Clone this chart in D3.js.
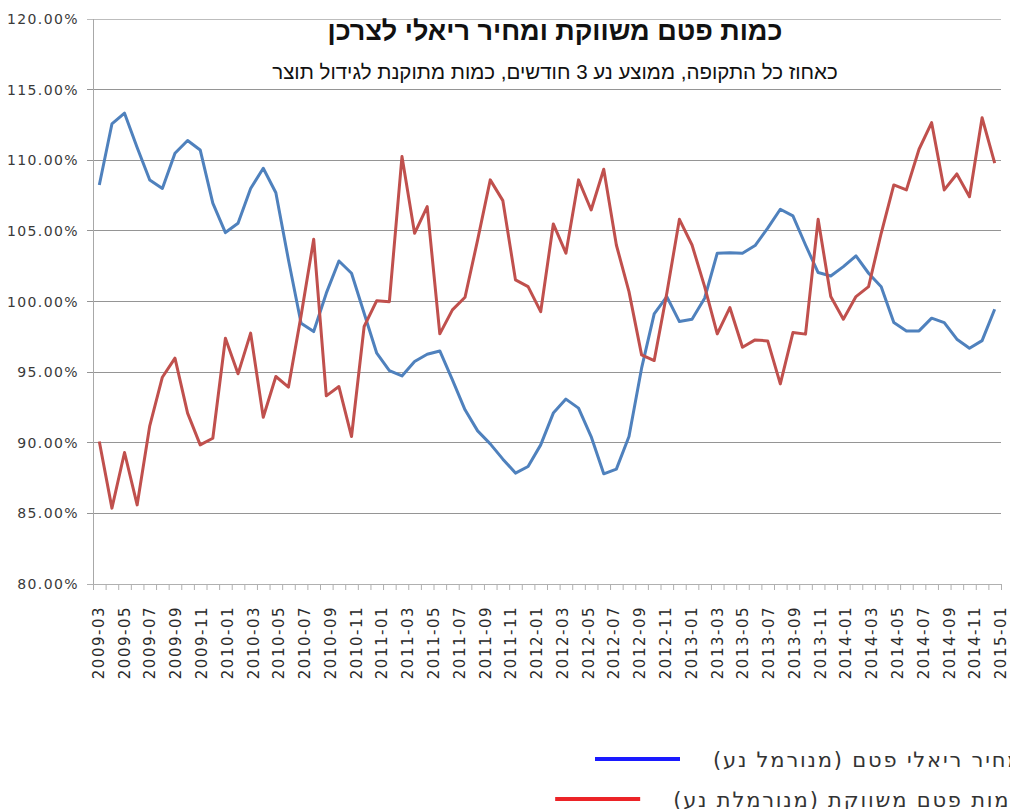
<!DOCTYPE html>
<html>
<head>
<meta charset="utf-8">
<script src="https://cdn.jsdelivr.net/npm/d3@7"></script>
<style>
  body { margin: 0; background: #fff; }
  svg { display: block; }
</style>
</head>
<body>
<svg id="chart" width="1010" height="809"></svg>
<script>
// Monthly categories 2009-03 .. 2015-02
const months = [];
for (let yr = 2009; yr <= 2015; yr++) {
  for (let m = 1; m <= 12; m++) {
    if ((yr === 2009 && m < 3) || (yr === 2015 && m > 2)) continue;
    months.push(yr + "-" + String(m).padStart(2, "0"));
  }
}

// Real price of broiler meat (normalised, moving avg), %
const priceValues = [
  108.25, 112.57, 113.33, 110.9, 108.6, 108.0, 110.5, 111.4, 110.73, 106.96,
  104.88, 105.54, 108.0, 109.43, 107.7, 102.94, 98.46, 97.87, 100.59, 102.87,
  102.0, 99.17, 96.34, 95.11, 94.73, 95.75, 96.27, 96.5, 94.45, 92.33,
  90.84, 89.92, 88.84, 87.85, 88.32, 89.85, 92.1, 93.09, 92.45, 90.44,
  87.8, 88.13, 90.44, 95.28, 99.12, 100.35, 98.58, 98.75, 100.23, 103.42,
  103.46, 103.42, 103.96, 105.19, 106.53, 106.06, 104.0, 102.05, 101.81, 102.47,
  103.23, 102.0, 101.05, 98.51, 97.92, 97.92, 98.82, 98.51, 97.33, 96.69,
  97.23, 99.45
];

// Marketed broiler quantity (normalised, moving avg), %
const quantityValues = [
  90.09, 85.37, 89.31, 85.6, 91.2, 94.64, 95.99, 92.1, 89.85, 90.32,
  97.4, 94.88, 97.76, 91.81, 94.69, 93.94, 99.0, 104.41, 93.32, 93.98,
  90.44, 98.23, 100.06, 99.99, 110.26, 104.83, 106.72, 97.71, 99.41, 100.3,
  104.36, 108.61, 107.14, 101.53, 101.05, 99.28, 105.49, 103.42, 108.61, 106.48,
  109.36, 104.0, 100.7, 96.22, 95.82, 100.59, 105.82, 104.0, 101.05, 97.71,
  99.57, 96.76, 97.28, 97.21, 94.17, 97.8, 97.69, 105.82, 100.35, 98.75,
  100.35, 101.05, 104.83, 108.25, 107.9, 110.78, 112.66, 107.9, 109.03, 107.42,
  113.01, 109.79
];

const yTicks = [80, 85, 90, 95, 100, 105, 110, 115, 120];
const tickLabels = months.filter((d, i) => i % 2 === 0 && i <= 70);

const titleText = "כמות פטם משווקת ומחיר ריאלי לצרכן";
const subtitleText = "כאחוז כל התקופה, ממוצע נע 3 חודשים, כמות מתוקנת לגידול תוצר";
const seriesNames = ["מחיר ריאלי פטם (מנורמל נע)", "כמות פטם משווקת (מנורמלת נע)"];

const svg = d3.select("#chart");
const plotLeft = 93, plotRight = 1001, plotTop = 19, plotBottom = 584;
const labelFont = "'DejaVu Sans', sans-serif";

const x = d3.scaleBand().domain(months).range([plotLeft, plotRight]).padding(0);
const y = d3.scaleLinear().domain([80, 120]).range([plotBottom, plotTop]);
const xEdge = d3.scaleLinear().domain([0, months.length]).range([plotLeft, plotRight]);
// labels are drawn a little wider than the categories in the original
const xLabel = d3.scalePoint().domain(tickLabels).range([98.8, 1001]);

// gridlines
svg.append("g")
  .selectAll("line")
  .data(yTicks)
  .join("line")
  .attr("x1", plotLeft - 6)
  .attr("x2", plotRight)
  .attr("y1", d => y(d))
  .attr("y2", d => y(d))
  .attr("stroke", d => (d === 80 || d === 120) ? "#bdbdbd" : "#959595")
  .attr("stroke-width", 1)
  .attr("shape-rendering", "crispEdges");

// y axis line + labels
svg.append("line")
  .attr("x1", plotLeft).attr("x2", plotLeft)
  .attr("y1", plotTop).attr("y2", plotBottom)
  .attr("stroke", "#a8a8a8")
  .attr("shape-rendering", "crispEdges");

svg.append("g")
  .selectAll("text")
  .data(yTicks)
  .join("text")
  .attr("x", 79)
  .attr("y", d => y(d))
  .attr("dy", "0.36em")
  .attr("text-anchor", "end")
  .attr("font-family", labelFont)
  .attr("font-size", 14)
  .attr("letter-spacing", 1.4)
  .attr("fill", "#3a3a3a")
  .text(d => d.toFixed(2) + "%");

// x axis with ticks between categories
const xAxis = d3.axisBottom(xEdge)
  .tickValues(d3.range(months.length + 1))
  .tickSize(6)
  .tickFormat("");
const gx = svg.append("g")
  .attr("transform", `translate(0,${plotBottom})`)
  .call(xAxis);
gx.select(".domain").attr("stroke", "#b0b0b0").attr("d", `M${plotLeft - 6},0.5H${plotRight}`);
gx.selectAll(".tick line").attr("stroke", "#b0b0b0");

svg.append("g")
  .selectAll("text")
  .data(tickLabels)
  .join("text")
  .attr("transform", d => `translate(${xLabel(d)},606) rotate(-90)`)
  .attr("dy", "0.34em")
  .attr("text-anchor", "end")
  .attr("font-family", labelFont)
  .attr("font-size", 15)
  .attr("letter-spacing", 1.5)
  .attr("fill", "#2a2a2a")
  .text(d => d);

// series lines
const line = values => d3.line()
  .x((d, i) => x(months[i]) + x.bandwidth() / 2)
  .y(d => y(d))(values);

svg.append("path")
  .attr("d", line(priceValues))
  .attr("fill", "none")
  .attr("stroke", "#4f81bd")
  .attr("stroke-width", 3)
  .attr("stroke-linejoin", "round");

svg.append("path")
  .attr("d", line(quantityValues))
  .attr("fill", "none")
  .attr("stroke", "#c0504d")
  .attr("stroke-width", 3)
  .attr("stroke-linejoin", "round");

// title
svg.append("text")
  .attr("x", 555).attr("y", 40)
  .attr("text-anchor", "middle")
  .attr("font-family", "'Liberation Sans', Arial, sans-serif")
  .attr("font-weight", "bold")
  .attr("font-size", 27)
  .attr("fill", "#111")
  .text(titleText);

svg.append("text")
  .attr("x", 555).attr("y", 79)
  .attr("text-anchor", "middle")
  .attr("font-family", "'Liberation Sans', Arial, sans-serif")
  .attr("font-size", 20.5)
  .attr("fill", "#111")
  .text(subtitleText);

// legend (runs off the right edge like the original)
const legendColors = ["#1a1aff", "#ec2327"];
const legendY = [759, 799];
const legend = svg.append("g");
const texts = legend.selectAll("text")
  .data(seriesNames)
  .join("text")
  .attr("y", (d, i) => legendY[i])
  .attr("dy", "0.36em")
  .attr("direction", "rtl")
  .attr("text-anchor", "start")
  .attr("font-family", "'DejaVu Sans', sans-serif")
  .attr("font-size", 21)
  .attr("letter-spacing", 1.8)
  .attr("fill", "#333")
  .text(d => d);

const widths = texts.nodes().map(n => n.getComputedTextLength());
const rightEdge = 713 + widths[0];
texts.attr("x", rightEdge);
legend.selectAll("line")
  .data(seriesNames)
  .join("line")
  .attr("x1", (d, i) => rightEdge - widths[i] - 118)
  .attr("x2", (d, i) => rightEdge - widths[i] - 33)
  .attr("y1", (d, i) => legendY[i])
  .attr("y2", (d, i) => legendY[i])
  .attr("stroke", (d, i) => legendColors[i])
  .attr("stroke-width", 4);
</script>
</body>
</html>
